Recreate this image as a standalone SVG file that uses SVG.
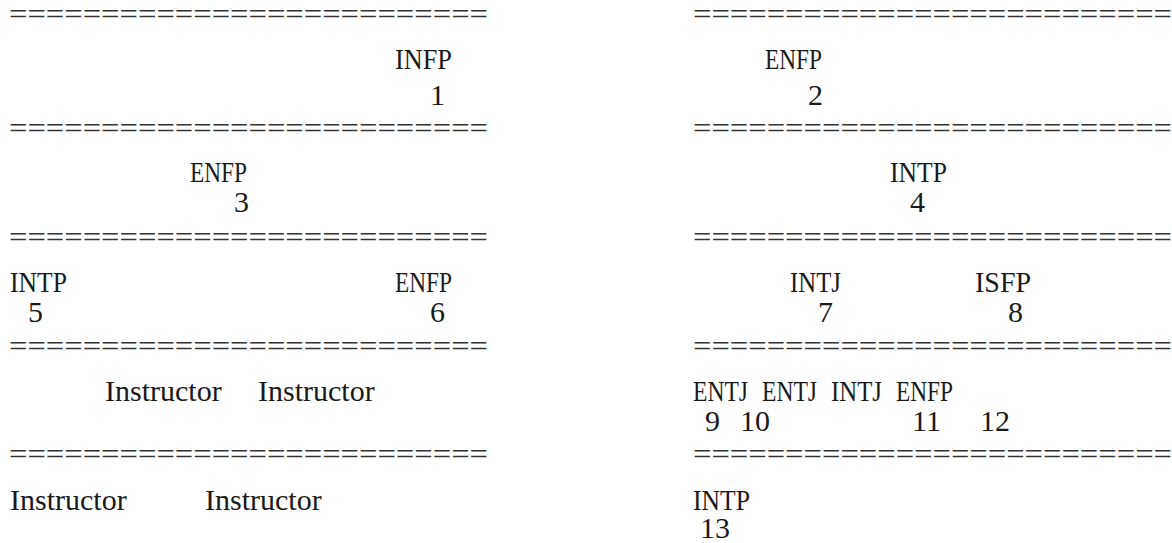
<svg xmlns="http://www.w3.org/2000/svg" width="1172" height="543" viewBox="0 0 1172 543">
  <style>
    text { font-family: "Liberation Serif", "Times New Roman", serif; font-size: 30px; fill: #1a1a1a; }
    .rule { font-size: 30px; fill: #333; }
  </style>
  <rect width="1172" height="543" fill="#ffffff"/>

  <!-- separator rows of equals signs -->
  <g id="rules">
    <text class="rule" x="9" y="24" textLength="479" lengthAdjust="spacingAndGlyphs">==========================</text>
    <text class="rule" x="9" y="138" textLength="479" lengthAdjust="spacingAndGlyphs">==========================</text>
    <text class="rule" x="9" y="247" textLength="479" lengthAdjust="spacingAndGlyphs">==========================</text>
    <text class="rule" x="9" y="356" textLength="479" lengthAdjust="spacingAndGlyphs">==========================</text>
    <text class="rule" x="9" y="464" textLength="479" lengthAdjust="spacingAndGlyphs">==========================</text>
    <text class="rule" x="693" y="24" textLength="479" lengthAdjust="spacingAndGlyphs">==========================</text>
    <text class="rule" x="693" y="138" textLength="479" lengthAdjust="spacingAndGlyphs">==========================</text>
    <text class="rule" x="693" y="247" textLength="479" lengthAdjust="spacingAndGlyphs">==========================</text>
    <text class="rule" x="693" y="356" textLength="479" lengthAdjust="spacingAndGlyphs">==========================</text>
    <text class="rule" x="693" y="464" textLength="479" lengthAdjust="spacingAndGlyphs">==========================</text>
  </g>

  <!-- left column -->
  <g id="seat-1"><text x="395" y="69" textLength="57" lengthAdjust="spacingAndGlyphs">INFP</text><text x="430" y="105">1</text></g>
  <g id="seat-3"><text x="190" y="182" textLength="57" lengthAdjust="spacingAndGlyphs">ENFP</text><text x="234" y="212">3</text></g>
  <g id="seat-5"><text x="10" y="292" textLength="57" lengthAdjust="spacingAndGlyphs">INTP</text><text x="28" y="322">5</text></g>
  <g id="seat-6"><text x="395" y="292" textLength="57" lengthAdjust="spacingAndGlyphs">ENFP</text><text x="430" y="322">6</text></g>
  <g id="instructors-a"><text x="105" y="401">Instructor</text><text x="258" y="401">Instructor</text></g>
  <g id="instructors-b"><text x="10" y="510">Instructor</text><text x="205" y="510">Instructor</text></g>

  <!-- right column -->
  <g id="seat-2"><text x="765" y="69" textLength="57" lengthAdjust="spacingAndGlyphs">ENFP</text><text x="808" y="105">2</text></g>
  <g id="seat-4"><text x="890" y="182" textLength="57" lengthAdjust="spacingAndGlyphs">INTP</text><text x="910" y="212">4</text></g>
  <g id="seat-7"><text x="790" y="292" textLength="51" lengthAdjust="spacingAndGlyphs">INTJ</text><text x="818" y="322">7</text></g>
  <g id="seat-8"><text x="975" y="292" textLength="56" lengthAdjust="spacingAndGlyphs">ISFP</text><text x="1008" y="322">8</text></g>
  <g id="seat-9"><text x="693" y="401" textLength="55" lengthAdjust="spacingAndGlyphs">ENTJ</text><text x="705" y="431">9</text></g>
  <g id="seat-10"><text x="762" y="401" textLength="55" lengthAdjust="spacingAndGlyphs">ENTJ</text><text x="740" y="431">10</text></g>
  <g id="seat-11"><text x="831" y="401" textLength="51" lengthAdjust="spacingAndGlyphs">INTJ</text><text x="912" y="431">11</text></g>
  <g id="seat-12"><text x="896" y="401" textLength="57" lengthAdjust="spacingAndGlyphs">ENFP</text><text x="980" y="431">12</text></g>
  <g id="seat-13"><text x="693" y="510" textLength="57" lengthAdjust="spacingAndGlyphs">INTP</text><text x="700" y="538">13</text></g>
</svg>
